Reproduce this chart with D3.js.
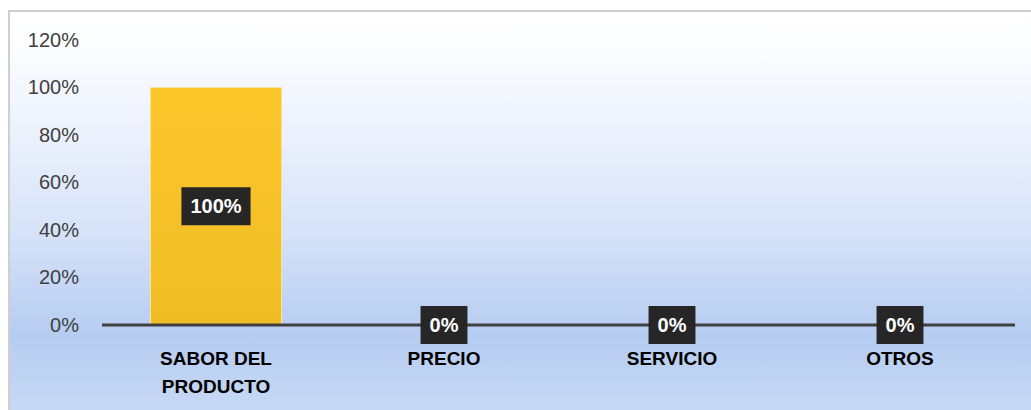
<!DOCTYPE html>
<html>
<head>
<meta charset="utf-8">
<script src="https://cdn.jsdelivr.net/npm/d3@7"></script>
<style>
  html, body { margin: 0; padding: 0; background: #ffffff; }
  svg { display: block; }
</style>
</head>
<body>
<svg id="chart" width="1031" height="410"></svg>
<script>
// Motivo principal de preferencia
const categories = [["SABOR DEL", "PRODUCTO"], ["PRECIO"], ["SERVICIO"], ["OTROS"]];
const values = [1.00, 0.00, 0.00, 0.00];
const yTicks = [0, 0.2, 0.4, 0.6, 0.8, 1.0, 1.2];

const svg = d3.select("#chart");
const W = 1031, H = 410;
const keys = categories.map(c => c.join(" "));
const FONT = "'Liberation Sans', Arial, sans-serif";

const defs = svg.append("defs");
const bg = defs.append("linearGradient").attr("id", "bgGrad")
  .attr("x1", 0).attr("y1", 0).attr("x2", 0).attr("y2", 1);
[[0, "#ffffff"], [0.1, "#fbfcff"], [0.35, "#e7eefb"], [0.55, "#d5e2f8"],
 [0.79, "#b6ccf1"], [1, "#c9daf5"]].forEach(([o, c]) =>
  bg.append("stop").attr("offset", o).attr("stop-color", c));

const barGrad = defs.append("linearGradient").attr("id", "barGrad")
  .attr("x1", 0).attr("y1", 0).attr("x2", 0).attr("y2", 1);
barGrad.append("stop").attr("offset", 0).attr("stop-color", "#fac62a");
barGrad.append("stop").attr("offset", 1).attr("stop-color", "#f1bd25");

// chart area with frame
svg.append("rect").attr("x", 9).attr("y", 11).attr("width", W).attr("height", H)
  .attr("fill", "url(#bgGrad)").attr("stroke", "#cfcfcf").attr("stroke-width", 2);

const x = d3.scaleBand().domain(keys).range([102, 1014])
  .paddingInner(0.425).paddingOuter(0.2125);
const y = d3.scaleLinear().domain([0, 1.2]).range([325, 40]);

// y axis labels
const yAxis = d3.axisLeft(y).tickValues(yTicks).tickFormat(d3.format(".0%"))
  .tickSize(0).tickPadding(0);
const gy = svg.append("g").attr("transform", "translate(79,0)").call(yAxis);
gy.select(".domain").remove();
gy.selectAll("text").attr("fill", "#404040")
  .style("font-family", FONT).style("font-size", "20px");

// bars
svg.append("g").selectAll("rect").data(values).join("rect")
  .attr("x", (d, i) => x(keys[i]))
  .attr("y", d => y(d))
  .attr("width", x.bandwidth())
  .attr("height", d => y(0) - y(d))
  .attr("fill", "url(#barGrad)")
  .attr("stroke", "#f6e3a6").attr("stroke-width", 1);

// baseline axis with category labels
const xAxis = d3.axisBottom(x).tickSize(0).tickFormat("");
const gx = svg.append("g").attr("transform", `translate(0,${y(0)})`).call(xAxis);
gx.select(".domain").attr("stroke", "#404040").attr("stroke-width", 3)
  .attr("d", "M102,0H1015");

const catG = svg.append("g")
  .style("font-family", FONT)
  .style("font-size", "19px").style("font-weight", "bold").attr("fill", "#000");
categories.forEach((lines, i) => {
  const cx = x(keys[i]) + x.bandwidth() / 2;
  const t = catG.append("text").attr("text-anchor", "middle").attr("x", cx).attr("y", 365);
  lines.forEach((ln, j) => t.append("tspan").attr("x", cx).attr("dy", j ? 28 : 0).text(ln));
});

// value labels in dark boxes, centred on each bar
const fmt = d3.format(".0%");
const lab = svg.append("g")
  .style("font-family", FONT).style("font-size", "20px").style("font-weight", "bold");
values.forEach((v, i) => {
  const cx = x(keys[i]) + x.bandwidth() / 2;
  const cy = (y(v) + y(0)) / 2;
  const g = lab.append("g");
  const t = g.append("text").attr("x", cx).attr("y", cy + 7)
    .attr("text-anchor", "middle").attr("fill", "#ffffff").text(fmt(v));
  const w = t.node().getComputedTextLength() + 18;
  g.insert("rect", "text").attr("x", cx - w / 2).attr("y", cy - 19)
    .attr("width", w).attr("height", 38).attr("fill", "#262626");
});
</script>
</body>
</html>
